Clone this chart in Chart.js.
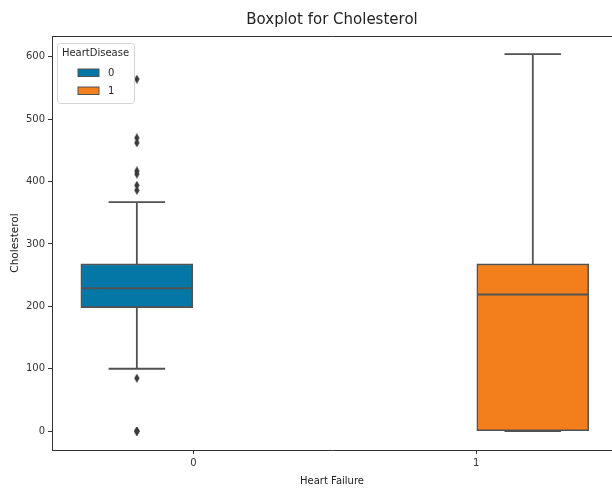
<!DOCTYPE html>
<html lang="en">
<head>
<meta charset="UTF-8">
<title>Boxplot for Cholesterol</title>
<script src="https://cdn.jsdelivr.net/npm/chart.js"></script>
<style>
  html, body { margin: 0; padding: 0; background: #fff; overflow: hidden; }
  canvas { display: block; }
</style>
</head>
<body>
<canvas id="chart" width="612" height="488"></canvas>
<script>
// categories on the x axis and the hue groups (HeartDisease)
const categories = ["0", "1"];
const hueLabels = ["0", "1"];
const hueColors = ["#0577a6", "#f27f1c"];
const legendTitle = "HeartDisease";

// box statistics per hue
const lowerWhisker = [100, 0];
const q1 = [198, 0];
const median = [229, 219];
const q3 = [268, 268];
const upperWhisker = [367, 604];
const outliers = [
  [564, 470, 462, 417, 412, 394, 386, 85, 0, 0, 0],
  []
];
const yTicks = [0, 100, 200, 300, 400, 500, 600];

const lineGray = "#525252";
const boxHalf = 0.196, capHalf = 0.1;

// seaborn dodge: hue j sits at category j, shifted by (j - 0.5) * 0.4
const centers = hueLabels.map((h, j) => categories.indexOf(h) + (j - 0.5) * 0.4);

// thin diamond marker like matplotlib 'd'
function diamond() {
  const c = document.createElement("canvas");
  c.width = 6; c.height = 9;
  const g = c.getContext("2d");
  g.fillStyle = "#3a3a3a";
  g.beginPath();
  g.moveTo(3, 0); g.lineTo(5.7, 4.5); g.lineTo(3, 9); g.lineTo(0.3, 4.5);
  g.closePath(); g.fill();
  return c;
}
const marker = diamond();

const datasets = [];
hueLabels.forEach((h, j) => {
  const c = centers[j];
  datasets.push({
    type: "bar",
    label: h,
    data: [{ x: c, y: [q1[j], q3[j]] }],
    backgroundColor: hueColors[j],
    borderColor: lineGray,
    borderWidth: 1.6,
    borderSkipped: false,
    barThickness: 112,
    grouped: false,
    order: 3
  });
  datasets.push({
    type: "line",
    data: [
      { x: c - capHalf, y: upperWhisker[j] }, { x: c + capHalf, y: upperWhisker[j] }, { x: c, y: null },
      { x: c, y: upperWhisker[j] }, { x: c, y: q3[j] }, { x: c, y: null },
      { x: c, y: q1[j] }, { x: c, y: lowerWhisker[j] }, { x: c, y: null },
      { x: c - capHalf, y: lowerWhisker[j] }, { x: c + capHalf, y: lowerWhisker[j] }, { x: c, y: null },
      { x: c - boxHalf, y: median[j] }, { x: c + boxHalf, y: median[j] }
    ],
    borderColor: lineGray,
    borderWidth: 1.8,
    pointRadius: 0,
    spanGaps: false,
    fill: false,
    order: 1
  });
  datasets.push({
    type: "scatter",
    data: outliers[j].map(v => ({ x: c, y: v })),
    pointStyle: marker,
    pointRadius: 4,
    showLine: false,
    order: 0
  });
});

const hueLegend = {
  id: "hueLegend",
  afterDatasetsDraw(chart) {
    const { ctx, chartArea: a } = chart;
    const x = a.left + 5, y = a.top + 7, w = 77, h = 60;
    ctx.save();
    ctx.beginPath();
    ctx.roundRect(x + 0.5, y + 0.5, w, h, 3);
    ctx.fillStyle = "rgba(255,255,255,0.8)";
    ctx.fill();
    ctx.strokeStyle = "#d4d4d4";
    ctx.lineWidth = 1;
    ctx.stroke();
    ctx.fillStyle = "#262626";
    ctx.font = '10px "DejaVu Sans"';
    ctx.textAlign = "center";
    ctx.textBaseline = "middle";
    ctx.fillText(legendTitle, x + w / 2, y + 10);
    hueLabels.forEach((lab, i) => {
      const sy = y + 26 + i * 18;
      ctx.fillStyle = hueColors[i];
      ctx.fillRect(x + 21, sy, 21, 7.5);
      ctx.strokeStyle = lineGray;
      ctx.strokeRect(x + 21, sy, 21, 7.5);
      ctx.fillStyle = "#262626";
      ctx.textAlign = "left";
      ctx.fillText(lab, x + 51, sy + 4);
    });
    ctx.restore();
  }
};

Chart.defaults.font.family = '"DejaVu Sans", sans-serif';
Chart.defaults.color = "#333";

const noSidePadding = s => { s.paddingLeft = 0; s.paddingRight = 0; };

new Chart(document.getElementById("chart"), {
  type: "bar",
  data: { datasets },
  plugins: [hueLegend],
  options: {
    responsive: false,
    animation: false,
    layout: { padding: 0, autoPadding: false },
    plugins: { legend: { display: false }, tooltip: { enabled: false } },
    scales: {
      x: {
        type: "linear",
        position: "bottom",
        offset: false,
        min: -0.5,
        max: 1.48,
        afterBuildTicks: s => { s.ticks = categories.map((c, i) => ({ value: i })); },
        afterFit: s => { s.height = 38; noSidePadding(s); },
        ticks: { callback: v => categories[v], font: { size: 10 }, color: "#333", padding: 3, maxRotation: 0 },
        grid: { offset: false, drawOnChartArea: false, tickLength: 4, color: "#333" },
        border: { color: "#333", width: 1 },
        title: { display: true, text: "Heart Failure", font: { size: 10 }, color: "#222", padding: { top: 0, bottom: 1 } }
      },
      x2: {
        type: "linear",
        position: "top",
        offset: false,
        min: -0.5,
        max: 1.48,
        afterFit: s => { s.height = 36; noSidePadding(s); },
        ticks: { display: false },
        grid: { display: false },
        border: { color: "#333", width: 1 },
        title: { display: true, text: "Boxplot for Cholesterol", font: { size: 15 }, color: "#222", padding: { top: 11, bottom: 0 } }
      },
      y: {
        type: "linear",
        min: -30.15,
        max: 633.15,
        afterBuildTicks: s => { s.ticks = yTicks.map(v => ({ value: v })); },
        afterFit: s => { s.width = 52; s.paddingTop = 0; s.paddingBottom = 0; },
        ticks: { font: { size: 10 }, color: "#333", padding: 3 },
        grid: { drawOnChartArea: false, tickLength: 4, color: "#333" },
        border: { color: "#333", width: 1 },
        title: { display: true, text: "Cholesterol", font: { size: 10.5 }, color: "#222", padding: { top: 9, bottom: 0 } }
      }
    }
  }
});
</script>
</body>
</html>
